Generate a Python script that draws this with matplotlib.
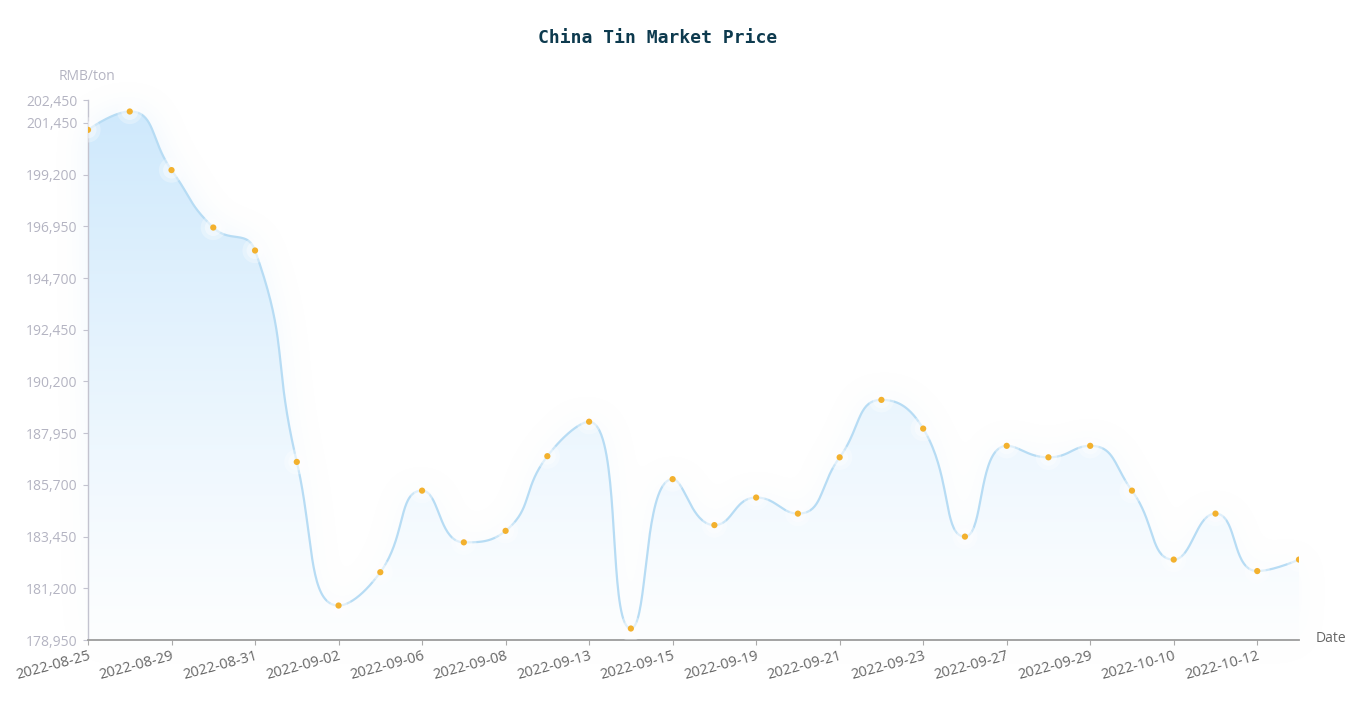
import numpy as np
import matplotlib
matplotlib.use("Agg")
import matplotlib.pyplot as plt
from matplotlib.path import Path
from matplotlib.patches import PathPatch

# ---------------- data ----------------
dates = ["2022-08-25", "2022-08-26", "2022-08-29", "2022-08-30", "2022-08-31",
         "2022-09-01", "2022-09-02", "2022-09-05", "2022-09-06", "2022-09-07",
         "2022-09-08", "2022-09-09", "2022-09-13", "2022-09-14", "2022-09-15",
         "2022-09-16", "2022-09-19", "2022-09-20", "2022-09-21", "2022-09-22",
         "2022-09-23", "2022-09-26", "2022-09-27", "2022-09-28", "2022-09-29",
         "2022-09-30", "2022-10-10", "2022-10-11", "2022-10-12", "2022-10-13"]
prices = [201150, 201950, 199400, 196900, 195900, 186700, 180450, 181900, 185450, 183200,
          183700, 186950, 188450, 179450, 185950, 183950, 185150, 184450, 186900, 189400,
          188150, 183450, 187400, 186900, 187400, 185450, 182450, 184450, 181950, 182450]
y_min, y_max, y_step = 178950, 202450, 2250
y_ticks = list(range(y_min, y_max, y_step)) + [y_max]
title = "China Tin Market Price"
y_name = "RMB/ton"
x_name = "Date"

# ---------------- figure ----------------
W, H = 1358, 705
fig = plt.figure(figsize=(W / 100, H / 100), dpi=100)
fig.patch.set_facecolor("white")
bg = fig.add_axes([0, 0, 1, 1])
bg.set_xlim(0, W)
bg.set_ylim(H, 0)
bg.axis("off")

ax = fig.add_axes([88 / W, 1 - 640 / H, 1211 / W, 540 / H])
ax.patch.set_alpha(0)
xs = np.arange(len(dates))
ax.set_xlim(0, len(dates) - 1)
ax.set_ylim(y_min, y_max)

# ---------- smooth curve (echarts-like bezier) in display space ----------
disp = ax.transData.transform(np.column_stack([xs, prices]).astype(float))
n = len(disp)
smooth = 0.5
cin = disp.copy()
cout = disp.copy()
for i in range(1, n - 1):
    p, pv, nx = disp[i], disp[i - 1], disp[i + 1]
    v = nx - pv
    l0 = np.hypot(*(p - pv))
    l1 = np.hypot(*(nx - p))
    r = l1 / (l0 + l1)
    co = p + v * smooth * r
    co = np.minimum(co, np.maximum(nx, p))
    co = np.maximum(co, np.minimum(nx, p))
    vo = co - p
    ci = p - vo * l0 / l1
    ci = np.minimum(ci, np.maximum(pv, p))
    ci = np.maximum(ci, np.minimum(pv, p))
    vi = p - ci
    co = p + vi * l1 / l0
    cin[i] = ci
    cout[i] = co

t = np.linspace(0, 1, 40)[:, None]
pts = [disp[0]]
for i in range(n - 1):
    P0, P1, P2, P3 = disp[i], cout[i], cin[i + 1], disp[i + 1]
    seg = ((1 - t) ** 3) * P0 + 3 * ((1 - t) ** 2) * t * P1 + 3 * (1 - t) * t ** 2 * P2 + t ** 3 * P3
    pts.extend(seg[1:])
pts = np.array(pts)
curve = ax.transData.inverted().transform(pts)

# ---------- glow (blurred area) ----------
base_disp_y = ax.transData.transform((0, y_min))[1]
poly_px = np.vstack([pts, [[pts[-1, 0], base_disp_y], [pts[0, 0], base_disp_y]]])
poly_px[:, 1] = H - poly_px[:, 1]
gx, gy = np.meshgrid(np.arange(W) + 0.5, np.arange(H) + 0.5)
mask = Path(poly_px).contains_points(np.column_stack([gx.ravel(), gy.ravel()])).reshape(H, W).astype(float)


def box_blur(a, r, axis):
    pad = [(0, 0), (0, 0)]
    pad[axis] = (r + 1, r)
    ap = np.pad(a, pad, mode="constant")
    c = np.cumsum(ap, axis=axis)
    if axis == 0:
        return (c[2 * r + 1:, :] - c[:-2 * r - 1, :]) / (2 * r + 1)
    return (c[:, 2 * r + 1:] - c[:, :-2 * r - 1]) / (2 * r + 1)


blur = mask
for _ in range(3):
    blur = box_blur(blur, 14, 0)
    blur = box_blur(blur, 14, 1)
fade = np.clip((640 - np.arange(H)) / 540.0, 0, 1)[:, None]
glow = np.zeros((H, W, 4))
glow[..., 0] = 205 / 255
glow[..., 1] = 230 / 255
glow[..., 2] = 250 / 255
glow[..., 3] = blur * (0.08 + 0.30 * fade)
bg.imshow(glow, extent=[0, W, H, 0], interpolation="bilinear", zorder=0)

# ---------- gradient area ----------
verts = np.vstack([curve, [[curve[-1, 0], y_min], [curve[0, 0], y_min], curve[0]]])
area = PathPatch(Path(verts), facecolor="none", edgecolor="none")
ax.add_patch(area)
top_c = np.array([207, 233, 252]) / 255
bot_c = np.array([253, 254, 255]) / 255
ny = 256
frac = np.linspace(0, 1, ny)[:, None]  # 0 bottom -> 1 top
grad = (bot_c + (top_c - bot_c) * frac ** 1.1)
grad_img = np.repeat(grad[:, None, :], 2, axis=1)
im = ax.imshow(grad_img, extent=[0, len(dates) - 1, y_min, max(prices)], origin="lower",
               aspect="auto", interpolation="bilinear", zorder=1)
im.set_clip_path(area)
ax.set_ylim(y_min, y_max)
ax.set_xlim(0, len(dates) - 1)

# ---------- line & points ----------
ax.plot(curve[:, 0], curve[:, 1], color="#b7dcf4", lw=1.6, zorder=2, solid_capstyle="round")
ax.scatter(xs, prices, s=330, color="white", alpha=0.30, edgecolors="none", zorder=3)
ax.scatter(xs, prices, s=150, color="white", alpha=0.40, edgecolors="none", zorder=3)
ax.scatter(xs, prices, s=20, color="#f3b12e", edgecolors="none", zorder=4)

# ---------- axes styling ----------
font = "Open Sans"
for s in ["top", "right"]:
    ax.spines[s].set_visible(False)
ax.spines["left"].set_color("#c3c3cf")
ax.spines["left"].set_linewidth(1.0)
ax.spines["bottom"].set_color("#9c9c9c")
ax.spines["bottom"].set_linewidth(1.3)

ax.set_yticks(y_ticks)
ax.set_yticklabels([f"{v:,}" for v in y_ticks], fontsize=10, color="#b4b4c2", family=font)
ax.tick_params(axis="y", length=3.5, width=0.8, color="#c3c3cf", pad=4)

ax.set_xticks(xs[::2])
ax.set_xticklabels(dates[::2], fontsize=10.5, color="#666666", family=font,
                   rotation=15, ha="right", rotation_mode="anchor")
ax.tick_params(axis="x", length=3.5, width=0.8, color="#aaaaaa", pad=3)


def ftext(px, py, s, **kw):
    fig.text(px / W, 1 - py / H, s, **kw)


ftext(658, 38, title, ha="center", va="center", fontsize=13, fontweight="bold",
      family="DejaVu Sans Mono", color="#0d3a4e")
ftext(59, 77, y_name, ha="left", va="center", fontsize=10, color="#b4b4c2", family=font)
ftext(1316, 639, x_name, ha="left", va="center", fontsize=10, color="#666666", family=font)

fig.savefig("out.png", dpi=100, facecolor="white")
